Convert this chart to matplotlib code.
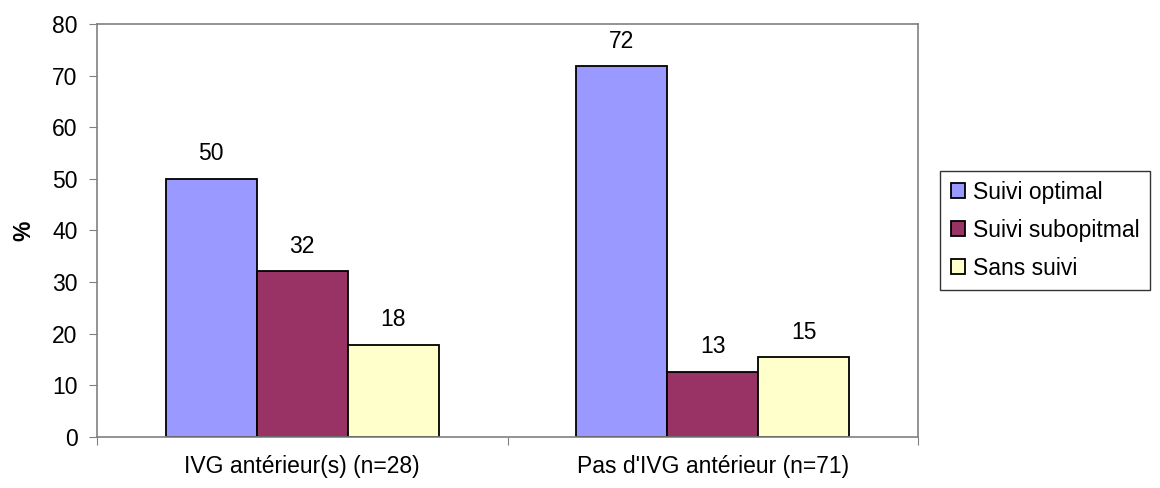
import numpy as np
import matplotlib
matplotlib.use("Agg")
import matplotlib.pyplot as plt

plt.rcParams['font.family'] = ['Liberation Sans', 'DejaVu Sans']

groups = ["IVG antérieur(s) (n=28)", "Pas d'IVG antérieur (n=71)"]
series = ["Suivi optimal", "Suivi subopitmal", "Sans suivi"]
optimal = [50.0, 71.83]
subopt = [32.14, 12.68]
sans = [17.86, 15.49]
colors = ["#9999FF", "#993366", "#FFFFCC"]

fs = 16.5

fig = plt.figure(figsize=(11.6, 4.88), dpi=100)
ax = fig.add_axes([0.0836, 0.1045, 0.7078, 0.8465])

x = np.array([0.5, 1.5])
w = 0.222
for i, (vals, c, name) in enumerate(zip([optimal, subopt, sans], colors, series)):
    bars = ax.bar(x + (i - 1) * w, vals, w, color=c, edgecolor="black", linewidth=1.3, label=name)
    for b, v in zip(bars, vals):
        ax.text(b.get_x() + b.get_width() / 2, v + 2.6, f"{v:.0f}", ha="center", va="bottom", fontsize=fs)

ax.set_xlim(0, 2)
ax.set_ylim(0, 80)
ax.set_yticks(range(0, 81, 10))
ax.set_xticks([0, 1, 2], minor=False)
ax.set_xticklabels([])
ax.set_xticks(x, minor=True)
ax.set_xticklabels(groups, minor=True, fontsize=fs)
ax.tick_params(axis="x", which="minor", length=0, pad=13)
ax.tick_params(axis="x", which="major", length=6, color="#808080", direction="out")
ax.tick_params(axis="y", length=6, color="#808080", labelsize=fs, pad=8)
for s in ax.spines.values():
    s.set_color("#808080")
    s.set_linewidth(1.2)
ax.set_ylabel("%", fontsize=fs, fontweight="bold", labelpad=12)

leg = ax.legend(loc="upper left", bbox_to_anchor=(1.027, 0.645), fontsize=fs, frameon=True,
                fancybox=False, edgecolor="black", handlelength=0.65, handleheight=0.65,
                handletextpad=0.35, labelspacing=0.65, borderpad=0.45, borderaxespad=0)
leg.get_frame().set_linewidth(1.0)

fig.savefig("out.png", dpi=100)
